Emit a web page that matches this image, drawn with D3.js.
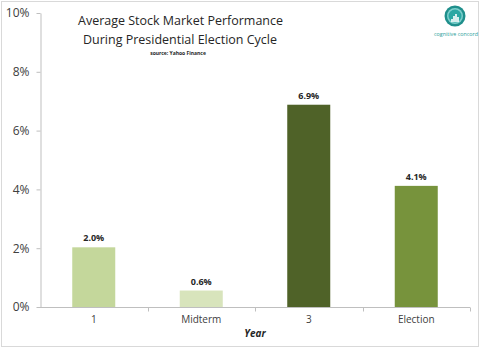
<!DOCTYPE html>
<html><head><meta charset="utf-8">
<script src="https://cdn.jsdelivr.net/npm/d3@7"></script>
<style>body{margin:0;background:#fff}svg{display:block}</style>
</head><body>
<svg id="c" width="480" height="348"></svg>
<script>
const categories = ["1", "Midterm", "3", "Election"];
const values = [2.03, 0.56, 6.88, 4.12];
const labels = ["2.0%", "0.6%", "6.9%", "4.1%"];
const colors = ["#c4d79b", "#d8e4bc", "#4f6228", "#77933c"];
const yTicks = [0, 2, 4, 6, 8, 10];

const svg = d3.select("#c");
const font = "'Open Sans', sans-serif";
svg.append("rect").attr("x",1.5).attr("y",1.5).attr("width",477).attr("height",345)
  .attr("fill","#fff").attr("stroke","#d9d9d9").attr("stroke-width",1);

const x = d3.scaleBand().domain(categories).range([40, 470]).paddingInner(0.6).paddingOuter(0.3);
const y = d3.scaleLinear().domain([0, 10]).range([307, 13]);

// y axis
const ya = svg.append("g").attr("transform","translate(40.5,0)")
  .call(d3.axisLeft(y).tickValues(yTicks).tickFormat(d => d + "%").tickSize(4).tickSizeOuter(0));
ya.select(".domain").attr("stroke","#bfbfbf");
ya.selectAll(".tick line").attr("stroke","#bfbfbf");
ya.selectAll(".tick text").attr("font-family",font).attr("font-size",12).attr("fill","#404040").attr("x",-11);

// x axis
const step = x.step();
const xa = svg.append("g").attr("transform","translate(0,307.5)");
xa.append("line").attr("x1",40).attr("x2",470).attr("stroke","#bfbfbf");
xa.selectAll(".tk").data(categories).enter().append("line")
  .attr("x1", d => Math.round(x(d) + x.bandwidth()/2 + step/2) + 0.5)
  .attr("x2", d => Math.round(x(d) + x.bandwidth()/2 + step/2) + 0.5)
  .attr("y1",0).attr("y2",4).attr("stroke","#bfbfbf");
xa.selectAll(".lb").data(categories).enter().append("text")
  .attr("x", d => x(d) + x.bandwidth()/2).attr("y",15)
  .attr("text-anchor","middle").attr("font-family",font).attr("font-size",10).attr("fill","#404040")
  .text(d => d);
svg.append("text").attr("x",255).attr("y",337).attr("text-anchor","middle")
  .attr("font-family",font).attr("font-size",10).attr("font-weight","bold").attr("font-style","italic")
  .attr("fill","#262626").text("Year");

// bars
svg.selectAll(".bar").data(values).enter().append("rect")
  .attr("x",(d,i)=>x(categories[i])).attr("width",x.bandwidth())
  .attr("y",d=>y(d)).attr("height",d=>y(0)-y(d))
  .attr("fill",(d,i)=>colors[i]);
svg.selectAll(".vl").data(values).enter().append("text")
  .attr("x",(d,i)=>x(categories[i])+x.bandwidth()/2).attr("y",d=>y(d)-6)
  .attr("text-anchor","middle").attr("font-family",font).attr("font-size",9).attr("font-weight","bold")
  .attr("fill","#262626").text((d,i)=>labels[i]);

// title
const t = svg.append("g").attr("font-family",font).attr("fill","#262626").attr("text-anchor","middle");
t.append("text").attr("x",180.5).attr("y",25).attr("font-size",13.5)
  .attr("textLength",205).attr("lengthAdjust","spacingAndGlyphs").text("Average Stock Market Performance");
t.append("text").attr("x",180).attr("y",43.5).attr("font-size",13.5)
  .attr("textLength",194).attr("lengthAdjust","spacingAndGlyphs").text("During Presidential Election Cycle");
t.append("text").attr("x",178).attr("y",55).attr("font-size",5).attr("font-weight","bold").text("source: Yahoo Finance");

// logo
const lg = svg.append("g").attr("transform","translate(455,16)");
lg.append("circle").attr("r",10.5).attr("fill","#1f8f8c");
lg.append("circle").attr("r",8).attr("fill","#7fd0cd");
lg.append("circle").attr("r",6.5).attr("fill","#2aa7a3");
[[-3,3],[-1,6],[1,8],[3,5]].forEach(([bx,h])=>lg.append("rect").attr("x",bx-0.8).attr("y",6-h).attr("width",1.6).attr("height",h).attr("fill","#fff"));
svg.append("text").attr("x",456).attr("y",36).attr("text-anchor","middle").attr("font-family",font)
  .attr("font-size",5.5).attr("fill","#2a9d9a").attr("textLength",44).attr("lengthAdjust","spacingAndGlyphs")
  .text("cognitive concord");
</script>
</body></html>
